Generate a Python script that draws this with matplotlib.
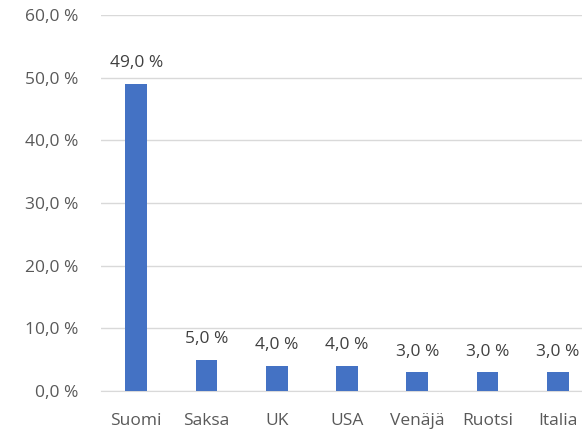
import matplotlib.pyplot as plt
import numpy as np

categories = ["Suomi", "Saksa", "UK", "USA", "Venäjä", "Ruotsi", "Italia"]
values = [49.0, 5.0, 4.0, 4.0, 3.0, 3.0, 3.0]
yticks = [0, 10, 20, 30, 40, 50, 60]

plt.rcParams['font.family'] = ['Open Sans', 'DejaVu Sans']

fig = plt.figure(figsize=(5.82, 4.29), dpi=100)
left = 101 / 582
ax = fig.add_axes([left, 38 / 429, 492 / 582, 376 / 429])

x = np.arange(len(categories))
ax.bar(x, values, width=0.31, color="#4472C4", zorder=3)

for xi, v in zip(x, values):
    ax.text(xi, v + 2.0, f"{v:.1f} %".replace(".", ","), ha="center", va="bottom",
            fontsize=12.5, color="#404040")

ax.set_xlim(-0.5, len(categories) - 0.5)
ax.set_ylim(0, 60)
ax.set_yticks(yticks)
ax.set_yticklabels([f"{t:.1f} %".replace(".", ",") for t in yticks])
ax.set_xticks(x)
ax.set_xticklabels(categories)
ax.tick_params(axis="both", length=0, labelsize=12.5, colors="#595959")
ax.tick_params(axis="y", pad=16)
ax.tick_params(axis="x", pad=16)
ax.grid(axis="y", color="#D9D9D9", linewidth=1, zorder=0)
for side in ["top", "right", "left"]:
    ax.spines[side].set_visible(False)
ax.spines["bottom"].set_color("#D9D9D9")

fig.savefig("out.png", dpi=100)
